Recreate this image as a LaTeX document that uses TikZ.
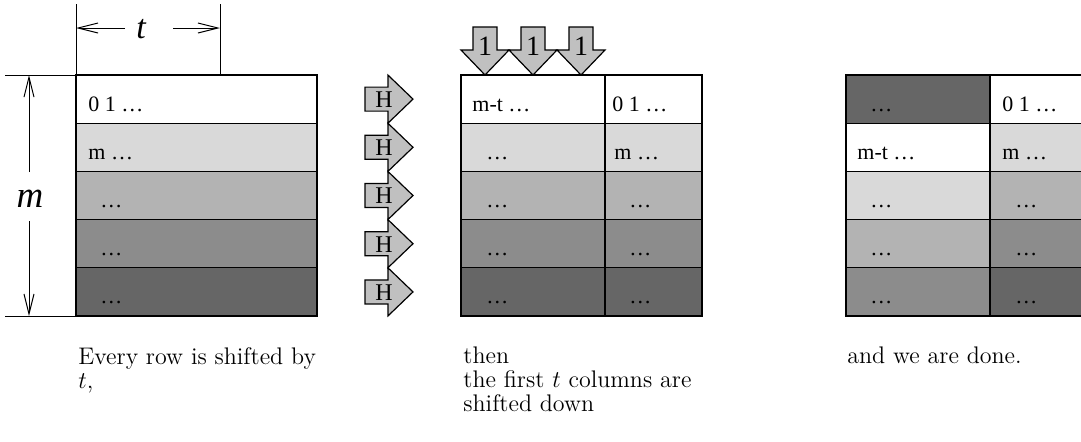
\documentclass[tikz,border=0pt]{standalone}
\usepackage{fontspec}
\newfontfamily\tms{Liberation Serif}
\newfontfamily\tmsit{Liberation Serif Italic}
\usetikzlibrary{arrows.meta}
\definecolor{ga}{HTML}{FFFFFF}
\definecolor{gb}{HTML}{D9D9D9}
\definecolor{gc}{HTML}{B3B3B3}
\definecolor{gd}{HTML}{8C8C8C}
\definecolor{ge}{HTML}{666666}
\definecolor{arrfill}{HTML}{C0C0C0}
\begin{document}
\begin{tikzpicture}[x=0.5pt,y=-0.5pt,
  cellline/.style={draw=black,line width=0.6pt},
  ctext/.style={anchor=base west,inner sep=0pt,font=\tms\fontsize{11}{13}\selectfont},
  captext/.style={anchor=base west,inner sep=0pt,font=\fontsize{12}{12}\selectfont},
  arrowshape/.style={draw=black,line width=0.6pt,fill=arrfill,line join=miter},
  arrlabel/.style={inner sep=0pt,font=\tms\fontsize{12}{14}\selectfont},
  onelabel/.style={inner sep=0pt,font=\tms\fontsize{14}{16}\selectfont},
  dimline/.style={line width=0.5pt},
  dimarrow/.style={line width=0.5pt,-{Straight Barb[length=10pt,width=5pt]}},
  biglabel/.style={inner sep=0pt,font=\tmsit\fontsize{18}{20}\selectfont}]
\useasboundingbox (0,0) rectangle (1081,441);

% ---------- left block ----------
\foreach \i/\c in {0/ga,1/gb,2/gc,3/gd,4/ge}{
  \fill[\c] (76,75+48.2*\i) rectangle ++(241,48.2);
  \draw[cellline] (76,75+48.2*\i) rectangle ++(241,48.2);
}
\node[ctext] (l1) at (88,111) {0 1 …};
\node[ctext] (l2) at (88,159.2) {m …};
\node[ctext] (l3) at (100,207.4) {…};
\node[ctext] (l4) at (100,255.6) {…};
\node[ctext] (l5) at (100,303.8) {…};

% dimension t
\coordinate (ta) at (76,4);
\coordinate (tb) at (220,4);
\coordinate (tc) at (220,75);
\draw[dimline] (ta) -- (76,75);
\draw[dimline] (tb) -- (tc);
\node[biglabel,font=\tmsit\fontsize{17}{19}\selectfont,anchor=base] (tlab) at (141,38) {t};
\coordinate (tl) at (125,28);
\coordinate (tr) at (173,28);
\draw[dimarrow] (tl) -- (76,28);
\draw[dimarrow] (tr) -- (220,28);

% dimension m
\coordinate (ma) at (5,75);
\coordinate (mb) at (5,316);
\draw[dimline] (ma) -- (76,75);
\draw[dimline] (mb) -- (76,316);
\node[biglabel,font=\tmsit\fontsize{18.5}{20}\selectfont,anchor=base] (mlab) at (30,207) {m};
\coordinate (mu) at (29,172);
\coordinate (md) at (29,221);
\draw[dimarrow] (mu) -- (29,75);
\draw[dimarrow] (md) -- (29,316);

% H arrows
\foreach \i in {0,...,4}{
  \pgfmathsetmacro\cy{99.1+48.2*\i}
  \draw[arrowshape] (365,\cy-12) -- (388,\cy-12) -- (388,\cy-24) -- (413,\cy)
     -- (388,\cy+24) -- (388,\cy+12) -- (365,\cy+12) -- cycle;
  \node[arrlabel] (h\i) at (384,\cy+0.5) {H};
}

% ---------- middle block ----------
\foreach \i/\c in {0/ga,1/gb,2/gc,3/gd,4/ge}{
  \fill[\c] (461,75+48.2*\i) rectangle ++(241,48.2);
  \draw[cellline] (461,75+48.2*\i) rectangle ++(241,48.2);
}
\draw[cellline] (605,75) -- (605,316);
\node[ctext] (a1) at (472,111) {m-t …};
\node[ctext] (a2) at (486,159.2) {…};
\node[ctext] (a3) at (486,207.4) {…};
\node[ctext] (a4) at (486,255.6) {…};
\node[ctext] (a5) at (486,303.8) {…};
\node[ctext] (b1) at (612,111) {0 1 …};
\node[ctext] (b2) at (614,159.2) {m …};
\node[ctext] (b3) at (629,207.4) {…};
\node[ctext] (b4) at (629,255.6) {…};
\node[ctext] (b5) at (629,303.8) {…};

% 1 arrows
\foreach \j in {0,1,2}{
  \pgfmathsetmacro\cx{485+48*\j}
  \draw[arrowshape] (\cx-12,27) -- (\cx+12,27) -- (\cx+12,50) -- (\cx+24,50)
     -- (\cx,75) -- (\cx-24,50) -- (\cx-12,50) -- cycle;
  \node[onelabel,anchor=base] (o\j) at (\cx,55) {1};
}

% ---------- right block ----------
\foreach \i/\c/\d in {0/ge/ga,1/ga/gb,2/gb/gc,3/gc/gd,4/gd/ge}{
  \fill[\c] (846,75+48.2*\i) rectangle ++(144,48.2);
  \fill[\d] (990,75+48.2*\i) rectangle ++(97,48.2);
  \draw[cellline] (846,75+48.2*\i) rectangle ++(241,48.2);
}
\draw[cellline] (990,75) -- (990,316);
\node[ctext] (c1) at (870,111) {…};
\node[ctext] (c2) at (857,159.2) {m-t …};
\node[ctext] (c3) at (870,207.4) {…};
\node[ctext] (c4) at (870,255.6) {…};
\node[ctext] (c5) at (870,303.8) {…};
\node[ctext] (d1) at (1002,111) {0 1 …};
\node[ctext] (d2) at (1002,159.2) {m …};
\node[ctext] (d3) at (1015,207.4) {…};
\node[ctext] (d4) at (1015,255.6) {…};
\node[ctext] (d5) at (1015,303.8) {…};

% ---------- captions ----------
\node[captext] (p1) at (78,364) {Every row is shifted by};
\node[captext] (p2) at (78,388) {$t$,};
\node[captext] (q1) at (463,363) {then};
\node[captext] (q2) at (463,387) {the first $t$ columns are};
\node[captext] (q3) at (463,411) {shifted down};
\node[captext] (r1) at (847,363) {and we are done.};
\end{tikzpicture}
\end{document}
